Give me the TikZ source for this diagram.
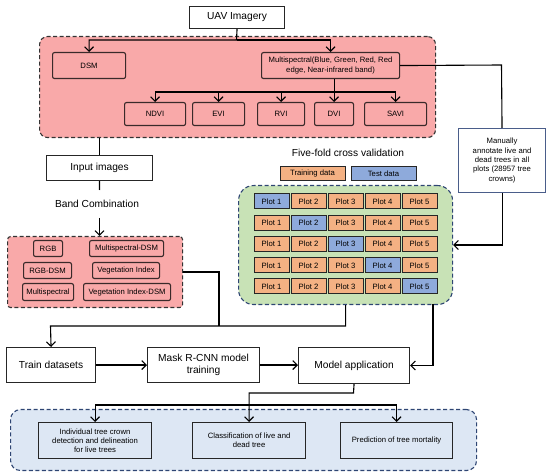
\documentclass[tikz,border=0pt]{standalone}
\usepackage{fontspec}
\setmainfont{Liberation Sans}
\usetikzlibrary{arrows.meta}
\definecolor{pinkf}{HTML}{F9A9A9}
\definecolor{pinkd}{HTML}{3A2A2A}
\definecolor{orangef}{HTML}{F4B183}
\definecolor{bluef}{HTML}{8EAADB}
\definecolor{greenf}{HTML}{C8E2B6}
\definecolor{lbluef}{HTML}{DDE7F4}
\definecolor{navyd}{HTML}{2E4573}
\definecolor{annotd}{HTML}{4A5D8A}
\newcommand{\smallfs}{\fontsize{7.7}{9.3}\selectfont}
\newcommand{\bigfs}{\fontsize{10.2}{12.3}\selectfont}
\tikzset{
  lw/.style={line width=1.1pt},
  bx/.style={draw=black!85, lw, anchor=north west, inner sep=0pt, align=center},
  bigbox/.style={bx, fill=white, font=\bigfs},
  pbox/.style={bx, fill=pinkf, draw=pinkd, rounded corners=2pt, font=\smallfs},
  cell/.style={draw=black!85, line width=1pt, minimum width=35pt, minimum height=15pt, inner sep=0pt, font=\smallfs, fill=orangef},
  tcell/.style={cell, fill=bluef},
  outbox/.style={bx, fill=lbluef, font=\smallfs},
  cont/.style={lw, dash pattern=on 4pt off 2.5pt, anchor=north west, inner sep=0pt},
  arr/.style={lw, -{Straight Barb[length=4.5pt,width=9pt,line width=1.1pt]}},
  ln/.style={lw},
}
\begin{document}
\begin{tikzpicture}[x=1pt,y=-1pt]
\useasboundingbox (0,0) rectangle (550,476);
% containers
\node[cont, draw=black!80, fill=pinkf, rounded corners=8pt, minimum width=396pt, minimum height=101pt] (pinkC) at (39,36) {};
\node[cont, draw=black!80, fill=pinkf, rounded corners=3pt, minimum width=175pt, minimum height=71pt] (bandC) at (7,236) {};
\node[cont, draw=navyd, fill=greenf, rounded corners=15pt, minimum width=214pt, minimum height=119pt] (greenC) at (238,185) {};
\node[cont, draw=navyd, fill=lbluef, rounded corners=10pt, minimum width=466pt, minimum height=61pt] (blueC) at (10,409) {};
% top
\node[bigbox, minimum width=95pt, minimum height=22pt] (uav) at (189,6) {UAV Imagery};
\node[pbox, minimum width=73pt, minimum height=26pt] (dsm) at (52,52) {DSM};
\node[pbox, minimum width=138pt, minimum height=26pt] (ms) at (261,52) {Multispectral(Blue, Green, Red, Red\\edge, Near-infrared band)};
\node[pbox, minimum width=61pt, minimum height=23pt] (ndvi) at (124,102) {NDVI};
\node[pbox, minimum width=52pt, minimum height=23pt] (evi) at (192,102) {EVI};
\node[pbox, minimum width=47pt, minimum height=23pt] (rvi) at (257,102) {RVI};
\node[pbox, minimum width=39pt, minimum height=23pt] (dvi) at (314,102) {DVI};
\node[pbox, minimum width=62pt, minimum height=23pt] (savi) at (364,102) {SAVI};
\node[bx, draw=annotd, fill=white, minimum width=87pt, minimum height=64pt, font=\smallfs] (annot) at (458,128) {Manually\\annotate live and\\dead trees in all\\plots (28957 tree\\crowns)};
% left column
\node[bigbox, minimum width=106pt, minimum height=25pt] (input) at (46,155) {Input images};
\node[font=\bigfs, inner sep=1pt] (bandtxt) at (97,204) {Band Combination};
\node[pbox, minimum width=29pt, minimum height=16pt] (rgb) at (33,240) {RGB};
\node[pbox, minimum width=74pt, minimum height=16pt] (msdsm) at (89,240) {Multispectral-DSM};
\node[pbox, minimum width=48pt, minimum height=16pt] (rgbdsm) at (23,262) {RGB-DSM};
\node[pbox, minimum width=67pt, minimum height=16pt] (vi) at (92,262) {Vegetation Index};
\node[pbox, minimum width=51pt, minimum height=17pt] (ms2) at (22,283) {Multispectral};
\node[pbox, minimum width=87pt, minimum height=17pt] (vidsm) at (83,283) {Vegetation Index-DSM};
% five-fold
\node[font=\bigfs] (fivetxt) at (348,153) {Five-fold cross validation};
\node[cell, minimum width=65pt, minimum height=14pt] (legtr) at (312.5,174) {Training data};
\node[tcell, minimum width=65pt, minimum height=14pt] (legte) at (383.5,174) {Test data};
\foreach \r in {1,...,5}{
  \foreach \c in {1,...,5}{
    \pgfmathsetmacro{\cx}{271.5+37*(\c-1)}
    \pgfmathsetmacro{\cy}{201.5+21.25*(\r-1)}
    \ifnum\r=\c
      \node[tcell] (p\r\c) at (\cx,\cy) {Plot \c};
    \else
      \node[cell] (p\r\c) at (\cx,\cy) {Plot \c};
    \fi
  }
}
% lower flow
\node[bigbox, minimum width=89pt, minimum height=35pt] (train) at (6,347) {Train datasets};
\node[bigbox, minimum width=112pt, minimum height=35pt] (mask) at (147,347) {Mask R-CNN model\\training};
\node[bigbox, minimum width=111pt, minimum height=36pt] (model) at (298,347) {Model application};
\node[outbox, minimum width=113pt, minimum height=36pt] (out1) at (38,422) {Individual tree crown\\detection and delineation\\for live trees};
\node[outbox, minimum width=113pt, minimum height=36pt] (out2) at (192,422) {Classification of live and\\dead tree};
\node[outbox, minimum width=112pt, minimum height=36pt] (out3) at (340,422) {Prediction of tree mortality};
% coordinates
\coordinate (j1) at (236.5,40);
\coordinate (j2) at (333.5,92);
\coordinate (ja) at (501.5,65);
\coordinate (jb) at (219,326);
\coordinate (jt) at (50.5,326);
\coordinate (gb) at (433,304);
\coordinate (m1) at (353.5,393);
\coordinate (h1) at (248.5,405);
\coordinate (ib) at (99.5,190);
\coordinate (bt) at (99.5,218);
% connectors
\draw[arr] (uav.south) -- (j1) -| (dsm.north);
\draw[arr] (j1) -| (ms.north);
\draw[arr] (ms.south -| dvi.north) -- (dvi.north);
\draw[arr] (j2) -| (ndvi.north);
\draw[arr] (j2) -| (evi.north);
\draw[arr] (j2) -| (rvi.north);
\draw[arr] (j2) -| (savi.north);
\draw[ln] (ms.east) -- (ja) -- (annot.north);
\draw[arr] (annot.south) |- (greenC.east);
\draw[ln] (input.north |- pinkC.south) -- (input.north);
\draw[ln] (input.south) -- (ib);
\draw[arr] (bt) -- (bandC.north -| bt);
\draw[ln] (bandC.east) -| (jb);
\draw[arr] (greenC.south) |- (jt) -- (train.north);
\draw[arr] (train.east) -- (mask.west);
\draw[arr] (mask.east) -- (mask.east -| model.west);
\draw[arr] (gb) |- (model.east);
\draw[arr] (model.south) -- (m1) -| (out2.north);
\draw[arr] (h1) -| (out1.north);
\draw[arr] (h1) -| (out3.north);
\end{tikzpicture}
\end{document}
